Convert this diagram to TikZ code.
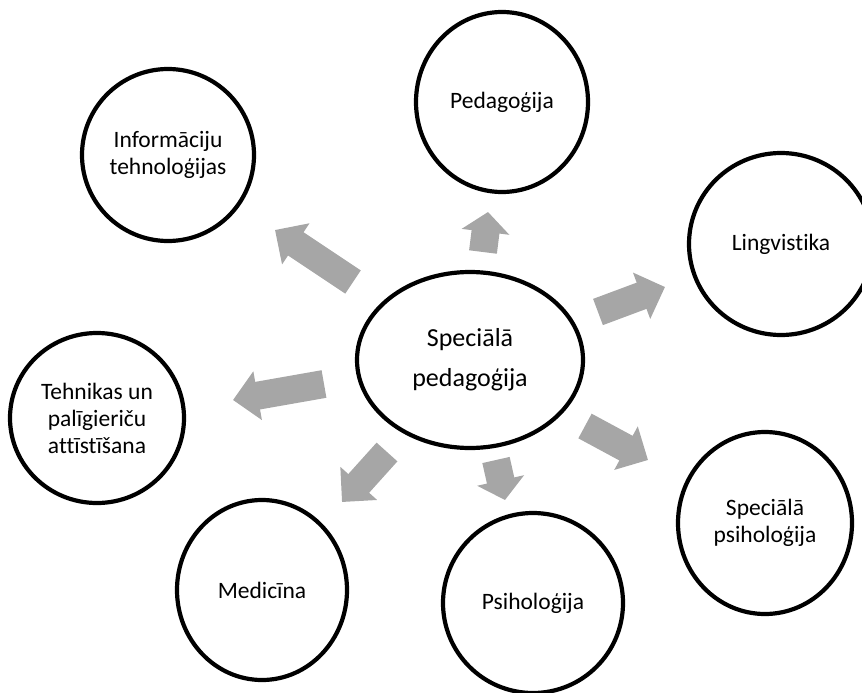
\documentclass[tikz,border=0pt]{standalone}
\usepackage{fontspec}
\setmainfont{Carlito}[Ligatures=NoCommon]
\usetikzlibrary{shapes.geometric,arrows.meta}
\definecolor{arrowgray}{RGB}{166,166,166}
\begin{document}
\begin{tikzpicture}[x=1pt,y=-1pt]
\useasboundingbox (0,0) rectangle (862,693);

\tikzstyle{topic}=[ellipse,draw=black,line width=4.2pt,fill=white,inner sep=0pt,align=center,font=\fontsize{23.5}{27}\selectfont]
\tikzstyle{flow}=[draw=arrowgray,line width=28pt,-{Triangle[length=25pt,width=48pt]}]
\tikzstyle{shortflow}=[draw=arrowgray,line width=28pt,-{Triangle[length=20pt,width=47pt]}]

\node[topic,minimum width=226pt,minimum height=176pt,font=\fontsize{26}{40}\selectfont] (sp) at (470,360) {Speciālā\\pedagoģija};

\node[topic,minimum width=172pt,minimum height=180pt] (ped) at (502,102) {Pedagoģija};
\node[topic,minimum width=172pt,minimum height=172pt] (inf) at (168,155) {Informāciju\\tehnoloģijas};
\node[topic,minimum width=184pt,minimum height=182pt] (lin) at (781,244) {Lingvistika};
\node[topic,minimum width=174pt,minimum height=170pt] (teh) at (97,418) {Tehnikas un\\palīgieriču\\attīstīšana};
\node[topic,minimum width=170pt,minimum height=180pt] (med) at (262,590) {Medicīna};
\node[topic,minimum width=180pt,minimum height=180pt] (psi) at (533,603) {Psiholoģija};
\node[topic,minimum width=174pt,minimum height=182pt] (spsi) at (765,523) {Speciālā\\psiholoģija};

% arrow ends
\coordinate (a1) at (353,282); \coordinate (b1) at (275,230);
\coordinate (a2) at (483,252); \coordinate (b2) at (488,212);
\coordinate (a3) at (598,312); \coordinate (b3) at (665,287);
\coordinate (a4) at (324,384); \coordinate (b4) at (233,400);
\coordinate (a5) at (387,452); \coordinate (b5) at (342,502);
\coordinate (a6) at (496,460); \coordinate (b6) at (505,500);
\coordinate (a7) at (585,426); \coordinate (b7) at (648,460);

\draw[flow] (a1) -- (b1);
\draw[shortflow] (a2) -- (b2);
\draw[flow] (a3) -- (b3);
\draw[flow] (a4) -- (b4);
\draw[flow] (a5) -- (b5);
\draw[shortflow] (a6) -- (b6);
\draw[flow] (a7) -- (b7);
\end{tikzpicture}
\end{document}
